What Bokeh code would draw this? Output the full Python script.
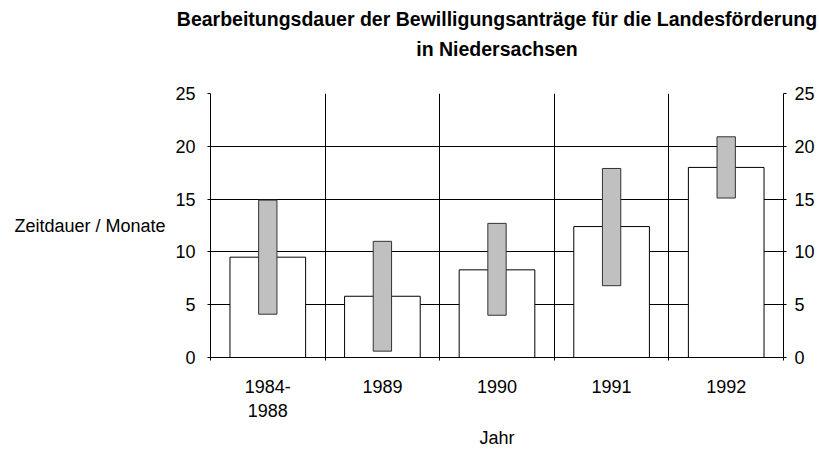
from bokeh.plotting import figure
from bokeh.models import Range1d, LinearAxis, FixedTicker, Title
from bokeh.embed import file_html
from bokeh.resources import INLINE

categories = ["1984-\n1988", "1989", "1990", "1991", "1992"]
median_months = [9.5, 5.8, 8.3, 12.4, 18.0]
range_low = [4.1, 0.6, 4.0, 6.8, 15.1]
range_high = [14.9, 11.0, 12.7, 17.9, 20.9]
y_ticks = [0, 5, 10, 15, 20, 25]
title_lines = ["Bearbeitungsdauer der Bewilligungsanträge für die Landesförderung",
               "in Niedersachsen"]
x_label = "Jahr"
y_label = "Zeitdauer / Monate"

FONT = "Liberation Sans"
FS = "18px"
TFS = "19.5px"
xs = [i + 0.5 for i in range(len(categories))]
bounds = list(range(len(categories) + 1))

p = figure(width=819, height=451, output_backend="svg", toolbar_location=None,
           x_range=Range1d(0, len(categories)), y_range=Range1d(0, 25),
           min_border_left=210, min_border_right=36, min_border_top=92, min_border_bottom=94)
p.outline_line_color = None
p.background_fill_color = "white"

xa = p.below[0]
ya = p.left[0]

p.vbar(x=xs, top=median_months, bottom=0, width=0.66, fill_color="white", line_color="black", line_width=1)
p.vbar(x=xs, top=range_high, bottom=range_low, width=0.16, fill_color="#c0c0c0", line_color="#333333", line_width=1)

def style_axis(ax):
    ax.axis_line_color = "black"
    ax.major_tick_line_color = "black"
    ax.minor_tick_line_color = "black"
    ax.major_label_text_font = FONT
    ax.major_label_text_font_size = FS
    ax.major_label_text_color = "black"
    ax.axis_label_text_font = FONT
    ax.axis_label_text_font_size = FS
    ax.axis_label_text_font_style = "normal"
    ax.axis_label_text_color = "black"

# title: second line as label of an invisible top axis, first line as Title
ta = LinearAxis(ticker=FixedTicker(ticks=[]))
ta.axis_line_color = None
ta.major_tick_line_color = None
ta.minor_tick_line_color = None
ta.axis_label = title_lines[1]
ta.axis_label_text_font = FONT
ta.axis_label_text_font_size = TFS
ta.axis_label_text_font_style = "bold"
ta.axis_label_text_color = "black"
ta.axis_label_standoff = 34
p.add_layout(ta, "above")

t1 = Title(text=title_lines[0], align="center", text_font=FONT, text_font_size=TFS,
           text_font_style="bold", text_color="black", standoff=10)
p.add_layout(t1, "above")

# x axis
style_axis(xa)
xa.ticker = FixedTicker(ticks=xs, minor_ticks=bounds)
xa.major_label_overrides = {x: c for x, c in zip(xs, categories)}
xa.major_tick_out = 0
xa.major_tick_in = 0
xa.minor_tick_out = 3
xa.minor_tick_in = 0
xa.major_label_standoff = 16
xa.axis_label = x_label
xa.axis_label_standoff = 4

# left axis
style_axis(ya)
ya.ticker = FixedTicker(ticks=y_ticks)
ya.minor_tick_line_color = None
ya.major_tick_out = 3
ya.major_tick_in = 0
ya.major_label_standoff = 12
ya.axis_label = y_label
ya.axis_label_orientation = "horizontal"
ya.axis_label_standoff = 7

# right axis
ra = LinearAxis(ticker=FixedTicker(ticks=y_ticks))
style_axis(ra)
ra.minor_tick_line_color = None
ra.major_tick_out = 3
ra.major_tick_in = 0
ra.major_label_standoff = 8
p.add_layout(ra, "right")

# grids
p.xgrid.ticker = FixedTicker(ticks=bounds[1:-1])
p.xgrid.grid_line_color = "black"
p.xgrid.grid_line_alpha = 1
p.ygrid.ticker = FixedTicker(ticks=y_ticks[1:])
p.ygrid.grid_line_color = "black"
p.ygrid.grid_line_alpha = 1

open("out.html", "w").write(file_html(p, INLINE))
